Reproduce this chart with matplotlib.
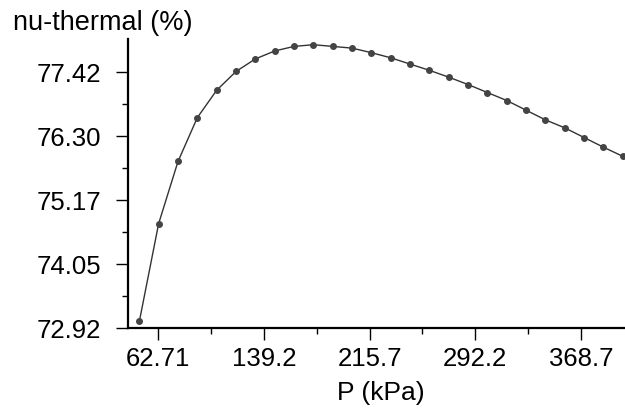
import numpy as np
import matplotlib
matplotlib.use("Agg")
import matplotlib.pyplot as plt

# pressure (kPa) and thermal efficiency (%)
p_kpa = [49, 63, 77, 91, 105, 119, 133, 147, 161, 175, 189, 203, 217,
         231, 245, 259, 273, 287, 301, 315, 329, 343, 357, 371, 385, 399]
nu_thermal = [73.04, 74.76, 75.85, 76.62, 77.10, 77.43, 77.65, 77.79, 77.87,
              77.90, 77.87, 77.84, 77.76, 77.67, 77.56, 77.45, 77.33, 77.20,
              77.06, 76.92, 76.75, 76.58, 76.44, 76.27, 76.10, 75.94]

x_ticks = [62.71, 139.2, 215.7, 292.2, 368.7]
y_ticks = [72.92, 74.045, 75.17, 76.295, 77.42]
y_labels = ["72.92", "74.05", "75.17", "76.30", "77.42"]

plt.rcParams['font.family'] = ['Liberation Sans', 'DejaVu Sans']

fig = plt.figure(figsize=(6.25, 4.08), dpi=100)
ax = fig.add_axes([0.2048, 0.1953, 0.7952, 0.7091])

ax.plot(p_kpa, nu_thermal, color='#333333', lw=1.0, marker='o', ms=4,
        mfc='#444444', mec='#444444')

ax.set_xlim(40.8, 400.6)
ax.set_ylim(72.92, 78.0)

ax.set_xticks(x_ticks)
ax.set_xticklabels([str(v) for v in x_ticks])
ax.set_xticks([(a + b) / 2 for a, b in zip(x_ticks[:-1], x_ticks[1:])], minor=True)
ax.set_yticks(y_ticks)
ax.set_yticklabels(y_labels)
ax.set_yticks([(a + b) / 2 for a, b in zip(y_ticks[:-1], y_ticks[1:])], minor=True)

for s in ['top', 'right']:
    ax.spines[s].set_visible(False)
for s in ['left', 'bottom']:
    ax.spines[s].set_linewidth(1.6)
    ax.spines[s].set_color('black')

ax.tick_params(which='major', length=8.5, width=1, labelsize=18.5, color='black')
ax.tick_params(which='minor', length=4.3, width=1, color='black')
ax.tick_params(axis='y', which='major', pad=11)
ax.tick_params(axis='x', which='major', pad=5)

ax.set_xlabel('P (kPa)', fontsize=19)
ax.xaxis.set_label_coords(0.509, -0.183)
fig.text(0.021, 1 - 23 / 408, 'nu-thermal (%)', fontsize=19.5, va='center', ha='left')

fig.savefig('out.png', dpi=100)
